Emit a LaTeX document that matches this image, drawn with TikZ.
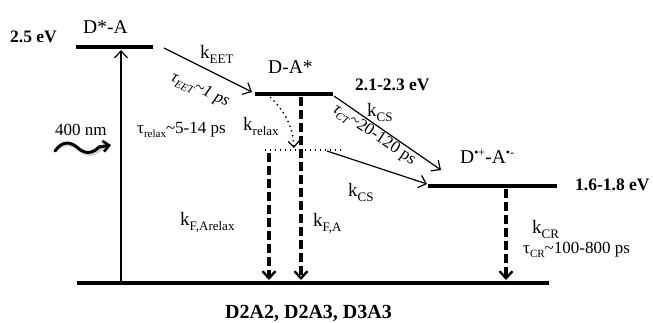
\documentclass[tikz,border=0pt]{standalone}
\usepackage{fontspec}
\setmainfont{Liberation Serif}
\usetikzlibrary{arrows.meta}

% rate constant k with lowered subscript
\newcommand\kfont{\fontsize{19}{19}\selectfont}
\newcommand\ksmall[1]{\raisebox{-5pt}{\fontsize{13}{13}\selectfont #1}}
\newcommand\rate[1]{{\kfont k\ksmall{#1}}}
% lifetime subscript
\newcommand\tsmall[1]{\raisebox{-4pt}{\fontsize{11}{11}\selectfont #1}}
% radical-ion superscript
\newcommand\rsup[1]{\raisebox{7pt}{\fontsize{12}{12}\selectfont #1}}

\begin{document}
\begin{tikzpicture}[x=1pt,y=-1pt,
  level/.style={line width=4.5pt},
  vhead/.style={-{Straight Barb[length=7pt,width=13pt]}},
  thinarrow/.style={line width=1.2pt, vhead},
  decay/.style={line width=3.2pt, dash pattern=on 9pt off 4pt,
    -{Straight Barb[length=7pt,width=13pt,line width=2.4pt]}},
  dotline/.style={line width=1.4pt, dash pattern=on 1.4pt off 3.6pt},
  lbl/.style={inner sep=0pt, anchor=base west, font=\fontsize{17}{17}\selectfont},
  statelbl/.style={lbl, font=\fontsize{19.5}{19.5}\selectfont},
  energy/.style={lbl, font=\fontsize{17.5}{17.5}\selectfont\bfseries},
]
\useasboundingbox (0,0) rectangle (653,322);

% energy levels
\coordinate (S1l) at (76,47);   \coordinate (S1r) at (153,47);
\coordinate (S2l) at (255,94);  \coordinate (S2r) at (333,94);
\coordinate (Rl)  at (265,150); \coordinate (Rr)  at (342,150);
\coordinate (CSl) at (428,186); \coordinate (CSr) at (557,186);
\coordinate (G0l) at (77,283);  \coordinate (G0r) at (549,283);

\draw[level] (S1l) -- (S1r);
\draw[level] (S2l) -- (S2r);
\draw[level] (CSl) -- (CSr);
\draw[level] (G0l) -- (G0r);
\draw[dotline] (Rl) -- (Rr);

% connector end points
\coordinate (excB) at (121,281);  \coordinate (excT) at (121,50);
\coordinate (eetS) at (164,48);   \coordinate (eetE) at (252,92);
\coordinate (cs1S) at (334,96);   \coordinate (cs1E) at (441,170);
\coordinate (cs2S) at (327,151);  \coordinate (cs2E) at (427,184);
\coordinate (relS) at (270,97);   \coordinate (relE) at (294,148);
\coordinate (farS) at (269,153);  \coordinate (farE) at (269,280);
\coordinate (faS)  at (301,97);   \coordinate (faE)  at (301,280);
\coordinate (crS)  at (506,189);  \coordinate (crE)  at (506,280);
\coordinate (wavS) at (55,151);   \coordinate (wavE) at (111,145);

% excitation and transfer arrows
\draw[thinarrow] (excB) -- (excT);
\draw[thinarrow] (eetS) -- (eetE);
\draw[thinarrow] (cs1S) -- (cs1E);
\draw[thinarrow] (cs2S) -- (cs2E);
\draw[dotline, -{Straight Barb[length=6pt,width=11pt,line width=1.2pt]}]
  (relS) .. controls (286,112) and (293,128) .. (relE);

% radiative / recombination decays
\draw[decay] (farS) -- (farE);
\draw[decay] (faS) -- (faE);
\draw[decay] (crS) -- (crE);

% incoming photon
\draw[line width=3pt, line cap=round, gray!35, shift={(1.5pt,-2pt)}]
  (wavS) .. controls (62,141) and (70,141) .. (78,148)
         .. controls (86,155) and (93,153) .. (99,147) -- (104,146);
\draw[line width=3pt, line cap=round,
      -{Straight Barb[length=6pt,width=11pt,line width=2.6pt]}]
  (wavS) .. controls (62,141) and (70,141) .. (78,148)
         .. controls (86,155) and (93,153) .. (99,147) -- (wavE);

% state labels
\node[statelbl] (lS1) at (83,33) {D*-A};
\node[statelbl] (lS2) at (268,73) {D-A*};
\node[statelbl] (lCS) at (460,163) {D\rsup{•+}-A\rsup{•-}};
\node[lbl, font=\fontsize{20}{20}\selectfont\bfseries] (lG) at (225,318) {D2A2, D2A3, D3A3};

% energies
\node[energy] (e1) at (10,42) {2.5 eV};
\node[energy] (e2) at (355,90) {2.1-2.3 eV};
\node[energy] (e3) at (575,190) {1.6-1.8 eV};

% rates and lifetimes
\node[lbl] (lnm) at (55,135) {400 nm};
\node[lbl] (kEET) at (200,58) {\rate{EET}};
\node[lbl] (kcs1) at (367,116) {\rate{CS}};
\node[lbl] (krel) at (243,130) {\rate{relax}};
\node[lbl] (trel) at (137,133) {τ\tsmall{relax}\textasciitilde 5-14 ps};
\node[lbl] (kcs2) at (348,196) {\rate{CS}};
\node[lbl] (kfar) at (180,225) {\rate{F,Arelax}};
\node[lbl] (kfa) at (313,226) {\rate{F,A}};
\node[lbl] (kcr) at (532,233) {\rate{CR}};
\node[lbl] (tcr) at (523,253) {τ\tsmall{CR}\textasciitilde 100-800 ps};
\node[inner sep=0pt, rotate=-25, font=\fontsize{17}{17}\selectfont] (teet) at (200,90)
  {\itshape τ\tsmall{EET}\textasciitilde 1 ps};
\node[inner sep=0pt, rotate=-34, font=\fontsize{17}{17}\selectfont] (tct) at (374,135)
  {{\itshape τ\tsmall{CT}}\textasciitilde 20-120 ps};
\end{tikzpicture}
\end{document}
